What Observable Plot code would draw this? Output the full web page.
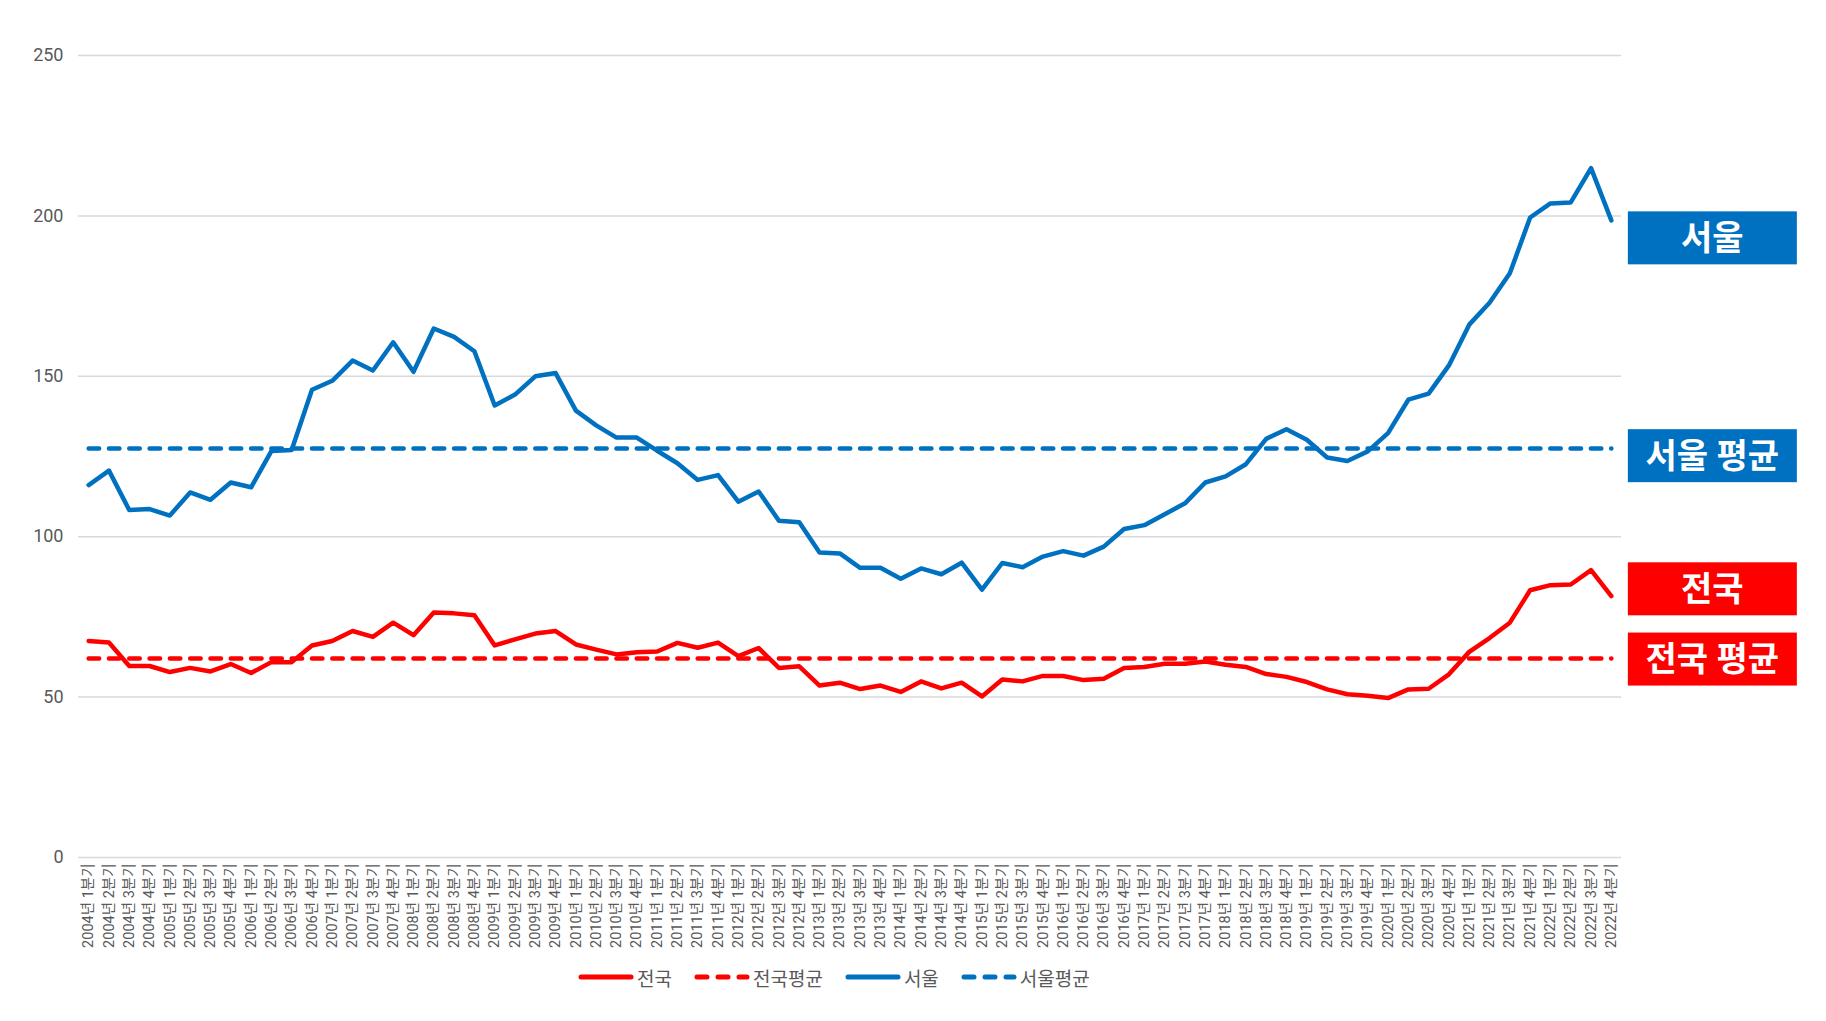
<!DOCTYPE html>
<html>
<head>
<meta charset="utf-8">
<script src="https://cdn.jsdelivr.net/npm/d3@7"></script>
<script src="https://cdn.jsdelivr.net/npm/@observablehq/plot@0.6"></script>
<style>
  body { margin: 0; background: #fff; font-family: Roboto, "Noto Sans CJK KR", sans-serif; }
  #wrap { position: relative; width: 1826px; height: 1021px; overflow: hidden; }
  #legend { position: absolute; top: 962px; left: 578px; height: 30px; display: flex; align-items: center;
            font-size: 19px; color: #595959; font-family: Roboto, "Noto Sans CJK KR", sans-serif; }
  .item { display: flex; align-items: center; margin-right: 22px; }
  .item svg { margin-right: 3px; }
</style>
</head>
<body>
<div id="wrap"><div id="chart"></div><div id="legend"></div></div>
<script>
// ---- data ----
const years = [2004,2005,2006,2007,2008,2009,2010,2011,2012,2013,2014,2015,2016,2017,2018,2019,2020,2021,2022];
const quarters = ["1분기","2분기","3분기","4분기"];
const periods = years.flatMap(y => quarters.map(q => `${y}년 ${q}`));

const seoul = [116.1,120.6,108.3,108.6,106.6,113.8,111.5,116.9,115.4,126.7,
               127.0,145.8,148.6,154.9,151.8,160.6,151.4,164.9,162.3,157.8,
               140.9,144.3,150.0,151.0,139.3,134.7,130.9,130.9,126.8,122.9,
               117.7,119.2,110.9,114.1,105.0,104.5,95.1,94.8,90.3,90.3,
               86.9,90.1,88.3,91.9,83.5,91.8,90.5,93.8,95.5,94.1,
               96.9,102.4,103.6,107.0,110.4,116.9,118.8,122.6,130.5,133.5,
               130.2,124.7,123.6,126.6,132.3,142.7,144.6,153.4,166.1,172.9,
               182.1,199.5,203.9,204.2,214.9,198.6];
const national = [67.5,67.0,59.7,59.7,57.8,59.1,58.0,60.3,57.5,60.9,
                  60.9,66.1,67.5,70.6,68.8,73.2,69.3,76.4,76.1,75.5,
                  66.1,68.0,69.8,70.6,66.4,64.8,63.3,64.0,64.2,66.9,
                  65.4,67.0,62.8,65.3,59.1,59.6,53.6,54.5,52.5,53.6,
                  51.6,54.9,52.7,54.5,50.2,55.5,54.9,56.6,56.6,55.3,
                  55.7,59.1,59.4,60.4,60.4,61.1,60.1,59.4,57.2,56.3,
                  54.7,52.4,50.9,50.4,49.7,52.4,52.6,57.1,64.1,68.4,
                  73.2,83.3,84.9,85.1,89.6,81.5];
const seoulAvg = 127.5;
const nationalAvg = 62.0;
const yTicks = [0,50,100,150,200,250];

const legendNames = ["전국","전국평균","서울","서울평균"];
const legendColors = ["#FF0000","#FF0000","#0070C0","#0070C0"];
const legendDashed = [false,true,false,true];

const endLabels = ["서울","서울 평균","전국","전국 평균"];
const endLabelAt = [193, 125.1, 83.6, 61.7];
const endLabelColors = ["#0070C0","#0070C0","#FF0000","#FF0000"];

// ---- table ----
const rows = periods.map((p, i) => ({p, seoul: seoul[i], national: national[i], seoulAvg, nationalAvg}));

const font = 'Roboto, "Noto Sans CJK KR", sans-serif';
const plot = Plot.plot({
  width: 1826, height: 965,
  marginTop: 55, marginBottom: 108, marginLeft: 78, marginRight: 205,
  style: {fontFamily: font, color: "#595959", background: "#fff"},
  x: {type: "point", domain: periods, padding: 0.5, round: false, label: null},
  y: {domain: [0, 250], label: null},
  marks: [
    Plot.gridY(yTicks, {stroke: "#D9D9D9", strokeOpacity: 1, strokeWidth: 1.5}),
    Plot.axisY(yTicks, {tickSize: 0, tickPadding: 15, fontSize: 18, label: null}),
    Plot.axisX({tickSize: 0, tickRotate: -90, tickPadding: 6, fontSize: 14.5, label: null}),
    Plot.line(rows, {x: "p", y: "nationalAvg", stroke: "#FF0000", strokeWidth: 4.5, strokeDasharray: "10.5,9.8", strokeLinecap: "round"}),
    Plot.line(rows, {x: "p", y: "seoulAvg", stroke: "#0070C0", strokeWidth: 4.5, strokeDasharray: "10.5,9.8", strokeLinecap: "round"}),
    Plot.line(rows, {x: "p", y: "national", stroke: "#FF0000", strokeWidth: 4.5, strokeLinejoin: "round", strokeLinecap: "round"}),
    Plot.line(rows, {x: "p", y: "seoul", stroke: "#0070C0", strokeWidth: 4.5, strokeLinejoin: "round", strokeLinecap: "round"})
  ]
});
document.getElementById("chart").appendChild(plot);

// end-of-line labels positioned through the plot's scales
const xs = plot.scale("x"), ys = plot.scale("y");
const bx = xs.apply(periods[periods.length - 1]) + 17;
const g = d3.select(plot).append("g");
endLabels.forEach((t, i) => {
  const cy = ys.apply(endLabelAt[i]);
  g.append("rect").attr("x", bx).attr("y", cy - 26.5).attr("width", 169).attr("height", 53).attr("fill", endLabelColors[i]);
  g.append("text").attr("x", bx + 84.5).attr("y", cy).attr("text-anchor", "middle").attr("dy", "0.36em")
    .attr("fill", "#fff").attr("font-size", 34).attr("font-weight", 700).attr("font-family", font).text(t);
});

// legend
const legend = document.getElementById("legend");
legendNames.forEach((n, i) => {
  const it = document.createElement("div");
  it.className = "item";
  const dash = legendDashed[i] ? 'stroke-dasharray="10,11"' : '';
  it.innerHTML = `<svg width="56" height="12"><line x1="3" y1="6" x2="53" y2="6" stroke="${legendColors[i]}" stroke-width="5" stroke-linecap="round" ${dash}/></svg><span>${n}</span>`;
  legend.appendChild(it);
});
</script>
</body>
</html>
